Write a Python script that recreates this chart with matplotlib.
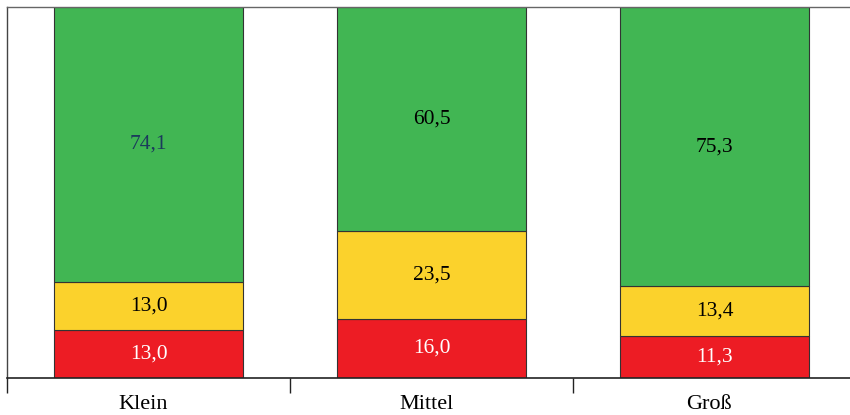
import numpy as np
import matplotlib.pyplot as plt

plt.rcParams['font.family'] = ['Liberation Serif', 'DejaVu Serif']

# Daten (Anteile in %)
categories = ["Klein", "Mittel", "Groß"]
red_vals = [13.0, 16.0, 11.3]
yellow_vals = [13.0, 23.5, 13.4]
green_vals = [74.1, 60.5, 75.3]
green_label_colors = ["#1B3A5C", "black", "black"]

RED = "#ED1C24"
YELLOW = "#FBD22C"
GREEN = "#41B653"

fig = plt.figure(figsize=(8.5, 4.15), dpi=100)
# Achse reicht etwas über den rechten Rand hinaus
ax = fig.add_axes([7 / 850, 1 - 378 / 415, 849 / 850, 371 / 415])

x = np.arange(len(categories))
w = 0.67
red = np.array(red_vals)
yellow = np.array(yellow_vals)
green = np.array(green_vals)

ax.bar(x, red, w, color=RED, edgecolor="#333333", linewidth=0.8)
ax.bar(x, yellow, w, bottom=red, color=YELLOW, edgecolor="#333333", linewidth=0.8)
ax.bar(x, green, w, bottom=red + yellow, color=GREEN, edgecolor="#333333", linewidth=0.8)

def fmt(v):
    return f"{v:.1f}".replace(".", ",")

for i in range(len(categories)):
    ax.text(x[i], red[i] / 2, fmt(red[i]), ha="center", va="center",
            color="white", fontsize=15.5)
    ax.text(x[i], red[i] + yellow[i] / 2, fmt(yellow[i]), ha="center",
            va="center", color="black", fontsize=15.5)
    ax.text(x[i], red[i] + yellow[i] + green[i] / 2, fmt(green[i]),
            ha="center", va="center", color=green_label_colors[i], fontsize=15.5)

ax.set_xlim(-0.5, 2.5)
ax.set_ylim(0, 100)

# Ticks an den Grenzen, Beschriftung in der Mitte
ax.set_xticks(np.arange(-0.5, 3, 1.0))
ax.set_xticklabels([])
ax.set_xticks(x - 0.018, minor=True)
ax.set_xticklabels(categories, minor=True, fontsize=16)
ax.tick_params(axis="x", which="major", length=11, width=1.0, color="#222222")
ax.tick_params(axis="x", which="minor", length=0, pad=12)
ax.set_yticks([])

ax.spines["right"].set_visible(False)
ax.spines["top"].set_color("#666666")
ax.spines["top"].set_linewidth(1.0)
ax.spines["left"].set_color("#444444")
ax.spines["left"].set_linewidth(1.0)
ax.spines["bottom"].set_color("#222222")
ax.spines["bottom"].set_linewidth(1.2)

fig.savefig("out.png", dpi=100)
